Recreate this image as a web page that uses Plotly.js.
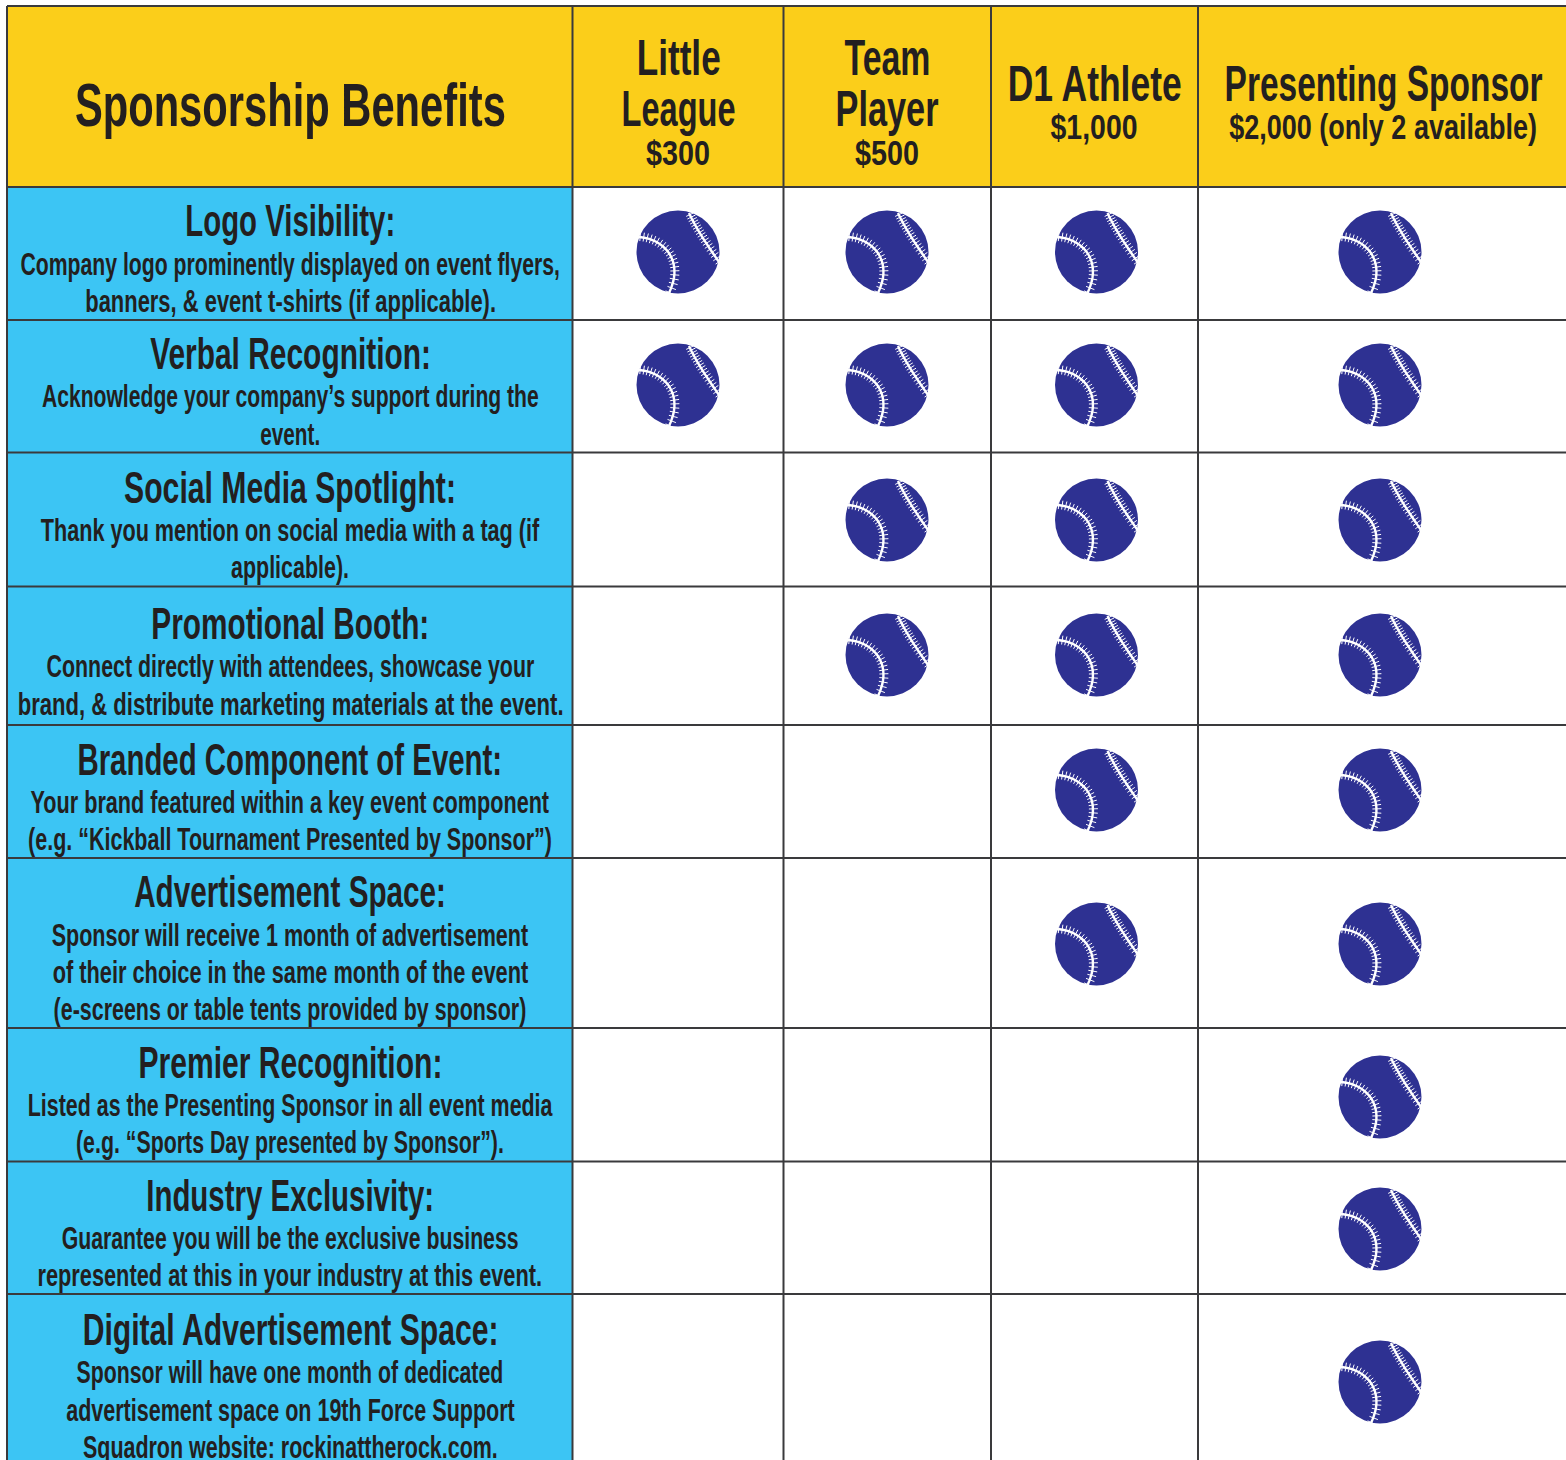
<!DOCTYPE html>
<html><head><meta charset="utf-8">
<script src="https://cdn.plot.ly/plotly-3.0.1.min.js"></script>
<style>html,body{margin:0;padding:0;background:#fff;overflow:hidden}</style>
</head><body><div id="chart" style="width:1566px;height:1460px"></div>
<script>
const corner = "Sponsorship Benefits";
const tierNames = [["Little","League"],["Team","Player"],["D1 Athlete"],["Presenting Sponsor"]];
const tierPrices = ["$300","$500","$1,000","$2,000 (only 2 available)"];
const benefitTitles = ["Logo Visibility:","Verbal Recognition:","Social Media Spotlight:","Promotional Booth:","Branded Component of Event:","Advertisement Space:","Premier Recognition:","Industry Exclusivity:","Digital Advertisement Space:"];
const benefitLines = [
 ["Company logo prominently displayed on event flyers,","banners, & event t-shirts (if applicable)."],
 ["Acknowledge your company’s support during the","event."],
 ["Thank you mention on social media with a tag (if","applicable)."],
 ["Connect directly with attendees, showcase your","brand, & distribute marketing materials at the event."],
 ["Your brand featured within a key event component","(e.g. “Kickball Tournament Presented by Sponsor”)"],
 ["Sponsor will receive 1 month of advertisement","of their choice in the same month of the event","(e-screens or table tents provided by sponsor)"],
 ["Listed as the Presenting Sponsor in all event media","(e.g. “Sports Day presented by Sponsor”)."],
 ["Guarantee you will be the exclusive business","represented at this in your industry at this event."],
 ["Sponsor will have one month of dedicated","advertisement space on 19th Force Support","Squadron website: rockinattherock.com."]
];
const included = [
 [1,1,1,1],[1,1,1,1],[0,1,1,1],[0,1,1,1],[0,0,1,1],[0,0,1,1],[0,0,0,1],[0,0,0,1],[0,0,0,1]
];

// layout geometry (page pixels, used as axis units)
const colEdges = [7,572.5,783.5,991,1198,1570];
const rowEdges = [6,187,320,452.5,586.5,725,858,1028,1161.5,1294,1470];
const tierX = [678,887,1094,1383];
const ballX = [678,887,1096.5,1380];
const ballY = [252,385,520,655,790,944,1097,1229,1382];
const titleY = [220.5,353.5,487.5,623.5,759.5,891.5,1062.5,1195.5,1329.5];
const lineY = [[263.5,300.5],[395.5,433.5],[529.5,566.5],[665.5,703.5],[801.5,838.5],[934.5,971.5,1008.5],[1104.5,1141.5],[1237.5,1274.5],[1371.5,1409.5,1446.5]];
const INK="#231f20", YEL="#fbce1a", BLU="#3cc5f4", NAVY="#2e3192", GRID="#3a3a3c";
const FONT="Liberation Sans";
const SIZE={head:62,tier:50,price:36,title:44,desc:32};
// rendered width of each text in the reference: no installed face is this condensed
const cornerW=431;
const tierNameW=[[84,114],[86,103],[174],[318]];
const tierPriceW=[64,64,87,308];
const titleW=[210,281,332,278,425,312,304,288,416];
const lineW=[[540,411],[497,60],[499,118],[488,546],[519,524],[477,476,473],[525,428],[457,505],[427,449,415]];

const anns=[],shapes=[],widths=[];
function label(text,x,y,kind,w){
  anns.push({text,x,y,xref:'x',yref:'y',showarrow:false,xanchor:'center',yanchor:'middle',align:'center',
    font:{family:FONT,size:SIZE[kind],color:INK,weight:700}});
  widths.push(w);
}
function rect(x0,y0,x1,y1,c){shapes.push({type:'rect',layer:'below',xref:'x',yref:'y',x0,y0,x1,y1,fillcolor:c,line:{width:0}});}
rect(colEdges[0],rowEdges[0],1570,rowEdges[1],YEL);
rect(colEdges[0],rowEdges[1],colEdges[1],1470,BLU);
colEdges.slice(0,5).forEach(x=>shapes.push({type:'line',layer:'below',xref:'x',yref:'y',x0:x,x1:x,y0:rowEdges[0],y1:1470,line:{color:GRID,width:2}}));
rowEdges.slice(0,10).forEach(y=>shapes.push({type:'line',layer:'below',xref:'x',yref:'y',x0:colEdges[0],x1:1570,y0:y,y1:y,line:{color:GRID,width:2}}));

label(corner,290.5,104,'head',cornerW);
const tierNameY={2:[58,109],1:[84]}, tierPriceY={2:152,1:126};
tierNames.forEach((n,i)=>{
  n.forEach((t,j)=>label(t,tierX[i],tierNameY[n.length][j],'tier',tierNameW[i][j]));
  label(tierPrices[i],tierX[i],tierPriceY[n.length],'price',tierPriceW[i]);
});
benefitTitles.forEach((t,i)=>{
  label(t,290,titleY[i],'title',titleW[i]);
  benefitLines[i].forEach((l,j)=>label(l,290,lineY[i][j],'desc',lineW[i][j]));
});

// seam shape of the ball, offsets in px from its centre (y down)
const seamA=[[11,-39],[18,-24],[27,-10],[41,10]];
const seamB=[[-40,-15],[-15,-14],[7,8],[-9,41]];
function bez(c,t){const u=1-t;return [0,1].map(k=>u*u*u*c[0][k]+3*u*u*t*c[1][k]+3*u*t*t*c[2][k]+t*t*t*c[3][k]);}
const fmt=(p)=>p[0].toFixed(1)+' '+(-p[1]).toFixed(1);
function curve(c){let s='';for(let i=0;i<=24;i++){s+=(i?'L':'M')+fmt(bez(c,i/24));}return s;}
function ticks(c,n){let s='';for(let i=0;i<=n;i++){const t=(i+.3)/(n+.6),p=bez(c,t),q=bez(c,t+.01);
  let dx=q[0]-p[0],dy=q[1]-p[1],L=Math.hypot(dx,dy);dx/=L;dy/=L;
  const a=[p[0]+dy*5+dx*1,p[1]-dx*5+dy*1],b=[p[0]-dy*4+dx*1,p[1]+dx*4+dy*1];
  s+='M'+fmt(a)+'L'+fmt(b);}return s;}
const seamPath=curve(seamA)+curve(seamB), tickPath=ticks(seamA,17)+ticks(seamB,20);

const bx=[],by=[];
included.forEach((row,r)=>row.forEach((v,c)=>{ if(v){
  bx.push(ballX[c]);by.push(ballY[r]);
  [[seamPath,2.4],[tickPath,1]].forEach(([path,w])=>shapes.push({type:'path',layer:'above',xref:'x',yref:'y',xsizemode:'pixel',ysizemode:'pixel',xanchor:ballX[c],yanchor:ballY[r],path,line:{color:'#ffffff',width:w}}));
}}));

Plotly.newPlot('chart',[{type:'scatter',mode:'markers',x:bx,y:by,marker:{symbol:'circle',size:83,color:NAVY,line:{width:0}},hoverinfo:'skip',showlegend:false}],{
  width:1566,height:1460,margin:{l:0,r:0,t:0,b:0,pad:0},paper_bgcolor:'#fff',plot_bgcolor:'#fff',showlegend:false,
  xaxis:{range:[0,1566],visible:false,fixedrange:true},yaxis:{range:[1460,0],visible:false,fixedrange:true},
  shapes,annotations:anns
},{displayModeBar:false,staticPlot:true}).then(gd=>{
  document.querySelectorAll('.annotation-text').forEach((t,i)=>{
    const b=t.getBBox(), cx=b.x+b.width/2, sx=widths[i]/b.width;
    t.setAttribute('transform',`translate(${cx} 0) scale(${sx} 1) translate(${-cx} 0)`);
  });
});
</script></body></html>
